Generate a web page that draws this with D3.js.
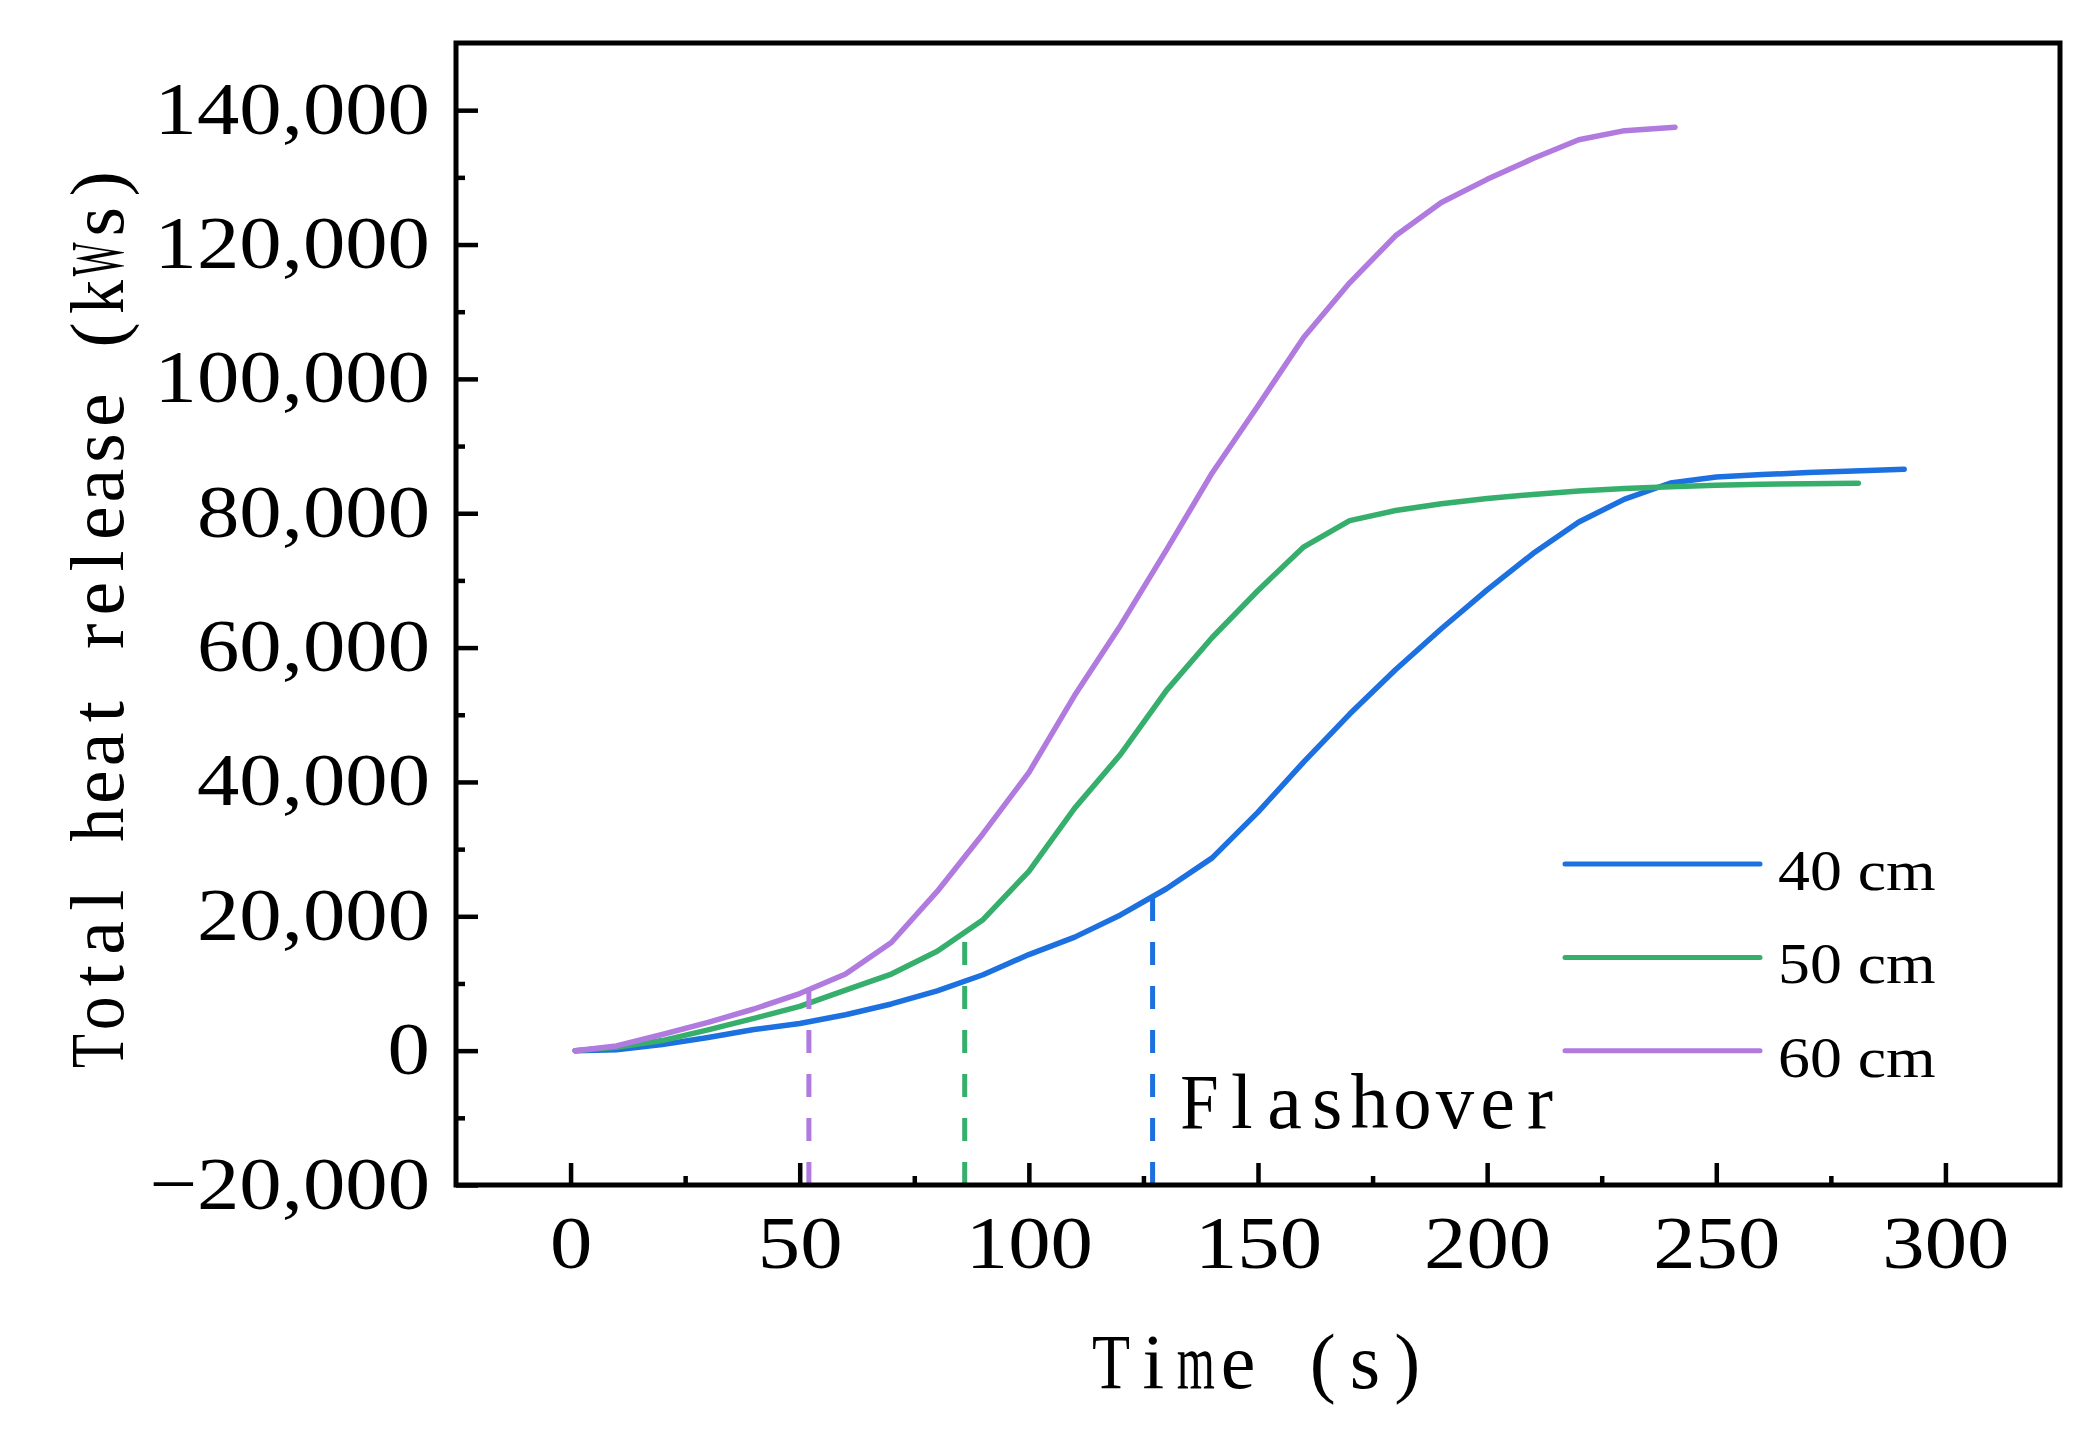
<!DOCTYPE html>
<html>
<head>
<meta charset="utf-8">
<script src="https://cdnjs.cloudflare.com/ajax/libs/d3/7.8.5/d3.min.js"></script>
<style>
  body { margin: 0; background: #fff; }
  svg { display: block; background: #fff; }
  text { font-family: "Liberation Serif", "Times New Roman", serif; fill: #000; }
</style>
</head>
<body>
<svg id="chart" width="2099" height="1432"></svg>
<script>
// time (s) and total heat release (kWs)
const time40 = [1, 10, 20, 30, 40, 50, 60, 70, 80, 90, 100, 110, 120, 130, 140, 150, 160, 170, 180, 190, 200, 210, 220, 230, 240, 250, 260, 270, 280, 291];
const heat40 = [0, 120, 900, 1950, 3150, 4050, 5350, 6950, 8900, 11300, 14300, 16900, 20200, 24100, 28700, 35500, 43000, 50100, 56700, 62800, 68600, 74000, 78700, 82100, 84500, 85400, 85750, 86050, 86300, 86550];

const time50 = [1, 10, 20, 30, 40, 50, 60, 70, 80, 90, 100, 110, 120, 130, 140, 150, 160, 170, 180, 190, 200, 210, 220, 230, 240, 250, 260, 270, 281];
const heat50 = [0, 500, 1500, 3100, 4800, 6600, 9000, 11400, 14800, 19500, 26700, 36100, 44100, 53600, 61500, 68500, 75000, 78900, 80400, 81400, 82200, 82800, 83300, 83700, 83950, 84150, 84300, 84400, 84450];

const time60 = [1, 10, 20, 30, 40, 50, 60, 70, 80, 90, 100, 110, 120, 130, 140, 150, 160, 170, 180, 190, 200, 210, 220, 230, 241];
const heat60 = [0, 700, 2400, 4200, 6200, 8500, 11400, 16100, 23700, 32300, 41400, 52900, 63300, 74500, 86000, 96000, 106200, 114300, 121300, 126250, 129700, 132800, 135600, 136950, 137450];

const seriesNames = ["40 cm", "50 cm", "60 cm"];
const seriesColors = ["#1c70e0", "#36ae6c", "#b07adf"];
const flashoverTimes = [127, 86, 52];

const xTicks = [0, 50, 100, 150, 200, 250, 300];
const xMinor = [25, 75, 125, 175, 225, 275];
const yTicks = [-20000, 0, 20000, 40000, 60000, 80000, 100000, 120000, 140000];
const yMinor = [-10000, 10000, 30000, 50000, 70000, 90000, 110000, 130000];

const xLabel = "Time (s)";
const yLabel = "Total heat release (kWs)";
const noteLabel = "Flashover";

const series = [
    { name: seriesNames[0], color: seriesColors[0], data: d3.zip(time40, heat40) },
    { name: seriesNames[1], color: seriesColors[1], data: d3.zip(time50, heat50) },
    { name: seriesNames[2], color: seriesColors[2], data: d3.zip(time60, heat60) }
];

const svg = d3.select("#chart");
const plot = { left: 456, right: 2060, top: 43, bottom: 1185 };

const x = d3.scaleLinear().domain([-25, 325]).range([plot.left, plot.right]);
const y = d3.scaleLinear().domain([-20000, 150000]).range([plot.bottom, plot.top]);

const stretchX = 1.13; // tick digits in the figure are wider than plain Times

// value on a curve at time t (used for the top of the flashover markers)
function valueAt(data, t) {
    for (let i = 1; i < data.length; i++) {
        if (data[i][0] >= t) {
            const a = data[i - 1], b = data[i];
            return a[1] + (b[1] - a[1]) * (t - a[0]) / (b[0] - a[0]);
        }
    }
    return data[data.length - 1][1];
}

// monospaced layout with serif glyphs, one cell per character;
// glyphs wider than their cell get squeezed like the original font
function monoText(g, str, cell, size) {
    str.split("").forEach((ch, i) => {
        if (ch === " ") return;
        const cg = g.append("g");
        const t = cg.append("text")
            .attr("text-anchor", "middle")
            .style("font-size", size + "px")
            .text(ch);
        const w = t.node().getComputedTextLength();
        const k = Math.min(1, cell * 0.9 / w);
        cg.attr("transform", "translate(" + ((i + 0.5) * cell) + ",0) scale(" + k + ",1)");
    });
}

// curves
const line = d3.line().x(d => x(d[0])).y(d => y(d[1]));
svg.append("g")
    .selectAll("path")
    .data(series)
    .enter()
    .append("path")
    .attr("d", d => line(d.data))
    .attr("fill", "none")
    .attr("stroke", d => d.color)
    .attr("stroke-width", 5.5)
    .attr("stroke-linejoin", "round")
    .attr("stroke-linecap", "round");

// flashover markers
svg.append("g")
    .selectAll("path")
    .data(series)
    .enter()
    .append("path")
    .attr("d", (d, i) => {
        const t = flashoverTimes[i];
        return "M" + x(t) + "," + y(y.domain()[0]) + "V" + y(valueAt(d.data, t));
    })
    .attr("fill", "none")
    .attr("stroke", d => d.color)
    .attr("stroke-width", 5)
    .attr("stroke-dasharray", "23,21");

// axes
const xAxis = svg.append("g")
    .attr("transform", "translate(0," + plot.bottom + ")")
    .call(d3.axisBottom(x).tickValues(xTicks).tickSizeInner(-22).tickSizeOuter(0).tickFormat(d3.format("d")));
xAxis.append("g")
    .call(d3.axisBottom(x).tickValues(xMinor).tickSizeInner(-9).tickSizeOuter(0).tickFormat(""));

const yAxis = svg.append("g")
    .attr("transform", "translate(" + plot.left + ",0)")
    .call(d3.axisLeft(y).tickValues(yTicks).tickSizeInner(-22).tickSizeOuter(0).tickFormat(d3.format(",")));
yAxis.append("g")
    .call(d3.axisLeft(y).tickValues(yMinor).tickSizeInner(-9).tickSizeOuter(0).tickFormat(""));

svg.selectAll(".domain").remove();
svg.selectAll(".tick line").attr("stroke", "#000").attr("stroke-width", 4.5);

xAxis.selectAll(".tick text")
    .attr("y", 83)
    .attr("dy", 0)
    .attr("x", 0)
    .attr("transform", "scale(" + stretchX + ",1)")
    .style("font-size", "75px")
    .attr("font-family", null);

yAxis.selectAll(".tick text")
    .attr("x", -26 / stretchX)
    .attr("y", 23)
    .attr("dy", 0)
    .attr("transform", "scale(" + stretchX + ",1)")
    .style("font-size", "75px")
    .attr("font-family", null);

// frame
svg.append("rect")
    .attr("x", plot.left)
    .attr("y", plot.top)
    .attr("width", plot.right - plot.left)
    .attr("height", plot.bottom - plot.top)
    .attr("fill", "none")
    .attr("stroke", "#000")
    .attr("stroke-width", 5);

// axis titles and note
monoText(svg.append("g").attr("transform", "translate(1090,1388)"), xLabel, 42.3, 78);
monoText(svg.append("g").attr("transform", "translate(1178,1128)"), noteLabel, 42.6, 78);
const yCell = 37.7;
monoText(svg.append("g").attr("transform", "translate(123," + (617.5 + yLabel.length * yCell / 2) + ") rotate(-90)"), yLabel, yCell, 76);

// legend
const legend = svg.append("g").attr("transform", "translate(1565,864)");
const item = legend.selectAll("g")
    .data(series)
    .enter()
    .append("g")
    .attr("transform", (d, i) => "translate(0," + i * 93.4 + ")");
item.append("line")
    .attr("x1", 0)
    .attr("x2", 195)
    .attr("stroke", d => d.color)
    .attr("stroke-width", 5)
    .attr("stroke-linecap", "round");
item.append("g")
    .attr("transform", "translate(213,26) scale(1.1,1)")
    .append("text")
    .style("font-size", "58px")
    .text(d => d.name);
</script>
</body>
</html>
